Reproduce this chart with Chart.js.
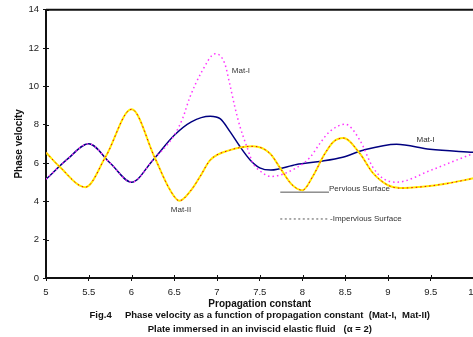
<!DOCTYPE html>
<html>
<head>
<meta charset="utf-8">
<script src="https://cdn.jsdelivr.net/npm/chart.js@4/dist/chart.umd.min.js"></script>
<style>
html,body{margin:0;padding:0;background:#fff;overflow:hidden;}
#wrap{width:480px;height:337px;}
</style>
</head>
<body>
<div id="wrap"><canvas id="c" width="480" height="337"></canvas></div>
<script>
// ---- data ----
const mat1PerviousX = [5, 5.25, 5.5, 5.75, 6.0, 6.25, 6.5, 6.7, 6.92, 7.04, 7.15, 7.27, 7.39, 7.5, 7.63, 7.93, 8.2, 8.47, 8.71, 9.1, 9.49, 10];
const mat1PerviousY = [5.15, 6.2, 7.0, 6.0, 5.0, 6.15, 7.45, 8.15, 8.44, 8.3, 7.65, 6.85, 6.15, 5.75, 5.63, 5.92, 6.08, 6.3, 6.67, 6.98, 6.72, 6.56];

const mat1ImperviousX = [5, 5.25, 5.5, 5.75, 6.0, 6.25, 6.5, 6.6, 6.68, 6.82, 6.98, 7.09, 7.15, 7.21, 7.27, 7.35, 7.42, 7.5, 7.63, 7.93, 8.09, 8.2, 8.32, 8.5, 8.67, 8.82, 8.94, 9.1, 9.5, 9.8, 10];
const mat1ImperviousY = [5.15, 6.2, 7.0, 6.0, 5.0, 6.15, 7.45, 8.35, 9.4, 10.75, 11.7, 11.2, 10.1, 8.9, 7.88, 6.84, 6.0, 5.6, 5.3, 5.75, 6.3, 7.0, 7.65, 8.02, 7.2, 5.8, 5.2, 5.0, 5.62, 6.15, 6.5];

const mat2PerviousX = [5, 5.16, 5.46, 5.7, 6.0, 6.27, 6.45, 6.56, 6.7, 6.8, 6.92, 7.15, 7.42, 7.62, 7.74, 7.87, 8.0, 8.12, 8.25, 8.36, 8.48, 8.67, 8.82, 9.0, 9.14, 9.4, 9.69, 10];
const mat2PerviousY = [6.55, 5.8, 4.74, 6.35, 8.8, 6.3, 4.6, 4.03, 4.6, 5.28, 6.15, 6.67, 6.87, 6.5, 5.73, 4.9, 4.58, 5.3, 6.4, 7.1, 7.3, 6.5, 5.5, 4.84, 4.69, 4.76, 4.93, 5.2];

const mat2ImperviousX = mat2PerviousX.slice();
const mat2ImperviousY = mat2PerviousY.slice();

const yTicks = [0, 2, 4, 6, 8, 10, 12, 14];
const xTicks = [5, 5.5, 6, 6.5, 7, 7.5, 8, 8.5, 9, 9.5, 10];

const xTitle = 'Propagation constant';
const yTitle = 'Phase velocity';
const caption1 = 'Fig.4     Phase velocity as a function of propagation constant  (Mat-I,  Mat-II)';
const caption2 = 'Plate immersed in an inviscid elastic fluid   (\u03b1 = 2)';
const legendPervious = 'Pervious Surface';
const legendImpervious = '-Impervious Surface';
const curveLabels = ['Mat-I', 'Mat-I', 'Mat-II'];

const FONT = "'Liberation Sans', Arial, sans-serif";
const pts = (xs, ys) => xs.map((x, i) => ({x: x, y: ys[i]}));

const extras = {
  id: 'extras',
  afterDraw(chart) {
    const {ctx, chartArea: a, scales: {x, y}} = chart;
    ctx.save();
    // top frame line
    ctx.strokeStyle = '#111';
    ctx.lineWidth = 2;
    ctx.beginPath();
    ctx.moveTo(a.left, a.top);
    ctx.lineTo(a.right, a.top);
    ctx.stroke();
    // short inner parts of the tick marks
    ctx.lineWidth = 1;
    xTicks.forEach(v => {
      const px = Math.round(x.getPixelForValue(v)) + 0.5;
      ctx.beginPath(); ctx.moveTo(px, a.bottom); ctx.lineTo(px, a.bottom - 3); ctx.stroke();
    });
    yTicks.forEach(v => {
      const py = Math.round(y.getPixelForValue(v)) + 0.5;
      ctx.beginPath(); ctx.moveTo(a.left, py); ctx.lineTo(a.left + 3, py); ctx.stroke();
    });
    // curve labels
    ctx.fillStyle = '#333';
    ctx.font = '8px ' + FONT;
    ctx.textAlign = 'center';
    ctx.textBaseline = 'middle';
    ctx.fillText(curveLabels[0], x.getPixelForValue(7.28), y.getPixelForValue(10.83));
    ctx.fillText(curveLabels[1], x.getPixelForValue(9.44), y.getPixelForValue(7.2));
    ctx.fillText(curveLabels[2], x.getPixelForValue(6.58), y.getPixelForValue(3.54));
    // legend
    const lx0 = x.getPixelForValue(7.74), lx1 = x.getPixelForValue(8.31);
    const ly1 = y.getPixelForValue(4.48), ly2 = y.getPixelForValue(3.08);
    ctx.strokeStyle = '#555';
    ctx.lineWidth = 1;
    ctx.beginPath();
    ctx.moveTo(lx0, ly1); ctx.lineTo(lx1, ly1);
    ctx.stroke();
    ctx.setLineDash([2, 2.5]);
    ctx.beginPath();
    ctx.moveTo(lx0, ly2); ctx.lineTo(lx1, ly2);
    ctx.stroke();
    ctx.setLineDash([]);
    ctx.textAlign = 'left';
    ctx.fillText(legendPervious, lx1, ly1 - 3);
    ctx.fillText(legendImpervious, lx1 + 1, ly2);
    // captions
    ctx.fillStyle = '#111';
    ctx.font = 'bold 9.5px ' + FONT;
    ctx.textAlign = 'center';
    const cx = (a.left + a.right) / 2;
    ctx.fillText(caption1, cx, a.bottom + 37);
    ctx.fillText(caption2, cx, a.bottom + 51);
    ctx.restore();
  }
};

new Chart(document.getElementById('c'), {
  type: 'line',
  data: {
    datasets: [
      {label: 'Mat-II impervious', data: pts(mat2ImperviousX, mat2ImperviousY), borderColor: '#e8001c', borderWidth: 1, borderDash: [1.5, 3], pointRadius: 0, cubicInterpolationMode: 'monotone', fill: false},
      {label: 'Mat-II pervious', data: pts(mat2PerviousX, mat2PerviousY), borderColor: '#ffee00', borderWidth: 2, pointRadius: 0, cubicInterpolationMode: 'monotone', fill: false},
      {label: 'Mat-I impervious', data: pts(mat1ImperviousX, mat1ImperviousY), borderColor: '#ff33ff', borderWidth: 1.5, borderDash: [1.5, 3], pointRadius: 0, cubicInterpolationMode: 'monotone', fill: false},
      {label: 'Mat-I pervious', data: pts(mat1PerviousX, mat1PerviousY), borderColor: '#000080', borderWidth: 1.5, pointRadius: 0, cubicInterpolationMode: 'monotone', fill: false}
    ]
  },
  options: {
    responsive: false,
    animation: false,
    events: [],
    layout: {padding: {top: 9, right: 6.5, left: 0, bottom: 0}},
    plugins: {legend: {display: false}, tooltip: {enabled: false}, title: {display: false}},
    scales: {
      x: {
        type: 'linear', min: 5, max: 10,
        afterFit: s => { s.height = 59; s.paddingRight = 0; s.paddingLeft = 0; },
        afterBuildTicks: s => { s.ticks = xTicks.map(v => ({value: v})); },
        border: {display: true, color: '#111', width: 2},
        grid: {display: true, drawOnChartArea: false, drawTicks: true, tickLength: 3, color: '#111', lineWidth: 1},
        ticks: {font: {family: FONT, size: 9.5}, color: '#222', padding: 6, maxRotation: 0, autoSkip: false, callback: v => String(v)},
        title: {display: true, text: xTitle, font: {family: FONT, size: 10, weight: 'bold'}, color: '#111', padding: {top: 0, bottom: 27}}
      },
      y: {
        type: 'linear', min: 0, max: 14,
        afterFit: s => { s.width = 46; },
        afterBuildTicks: s => { s.ticks = yTicks.map(v => ({value: v})); },
        border: {display: true, color: '#111', width: 2},
        grid: {display: true, drawOnChartArea: false, drawTicks: true, tickLength: 3, color: '#111', lineWidth: 1},
        ticks: {font: {family: FONT, size: 9.5}, color: '#222', padding: 4, callback: v => String(v)},
        title: {display: true, text: yTitle, font: {family: FONT, size: 10, weight: 'bold'}, color: '#111', padding: {top: 13, bottom: 0}}
      }
    }
  },
  plugins: [extras]
});
</script>
</body>
</html>
